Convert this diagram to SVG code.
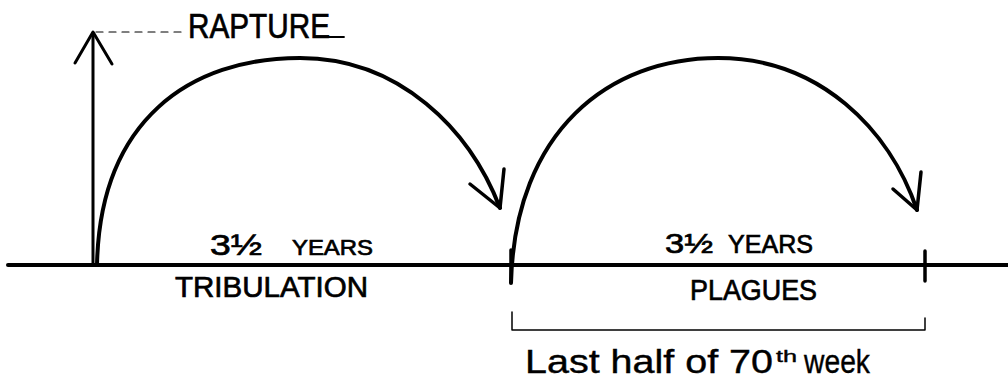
<svg xmlns="http://www.w3.org/2000/svg" width="1008" height="378" viewBox="0 0 1008 378">
<style>
.ln{fill:none;stroke:#000;stroke-linecap:round;stroke-linejoin:round}
.t{font-family:"Liberation Sans",Arial,sans-serif;fill:#000;stroke:#000;stroke-width:0.7}
.s{stroke-width:0.4}
</style>
<rect width="1008" height="378" fill="#fff"/>
<g id="connectors">
<path class="ln" d="M8,265 H1008" stroke-width="4"/>
<path class="ln" d="M93,265 V33" stroke-width="3"/>
<path class="ln" d="M75,63 L93,32 L112,64" stroke-width="3"/>
<path class="ln" d="M96,32 H183" stroke-width="1.2" stroke-dasharray="7,6" stroke-linecap="butt"/>
<path class="ln" d="M97,265 C 100,120 190,58 300,58 C 400,58 470,130 500,208" stroke-width="4"/>
<path class="ln" d="M470,184 L500,208 L504,169" stroke-width="3.5"/>
<path class="ln" d="M511,283 C 515,130 610,58 718,58 C 820,58 890,130 917,210" stroke-width="4"/>
<path class="ln" d="M893,189 L917,210 L921,172" stroke-width="3.5"/>
<path class="ln" d="M511,250 V282" stroke-width="3.5"/>
<path class="ln" d="M925,251 V281" stroke-width="3.5"/>
<path class="ln" d="M512,312 V330 H925 V318" stroke-width="1.5"/>
<path class="ln" d="M326,37 H344" stroke-width="1.8"/>
</g>
<g id="rapture">
<text class="t" x="188" y="38" font-size="35" textLength="142" lengthAdjust="spacingAndGlyphs">RAPTURE</text>
</g>
<g id="tribulation">
<text class="t" x="210" y="255" font-size="30" textLength="52" lengthAdjust="spacingAndGlyphs">3½</text>
<text class="t" x="292" y="255" font-size="22" textLength="81" lengthAdjust="spacingAndGlyphs">YEARS</text>
<text class="t" x="175" y="297" font-size="29" textLength="193" lengthAdjust="spacingAndGlyphs">TRIBULATION</text>
</g>
<g id="plagues">
<text class="t" x="665" y="253" font-size="28" textLength="48" lengthAdjust="spacingAndGlyphs">3½</text>
<text class="t" x="728" y="253" font-size="26" textLength="85" lengthAdjust="spacingAndGlyphs">YEARS</text>
<text class="t" x="690" y="300" font-size="29" textLength="127" lengthAdjust="spacingAndGlyphs">PLAGUES</text>
</g>
<g id="lasthalf">
<text class="t s" x="525" y="373" font-size="33" textLength="248" lengthAdjust="spacingAndGlyphs">Last half of 70</text>
<text class="t s" x="776" y="362" font-size="16" textLength="21" lengthAdjust="spacingAndGlyphs">th</text>
<text class="t s" x="804" y="373" font-size="33" textLength="66" lengthAdjust="spacingAndGlyphs">week</text>
</g>
</svg>
